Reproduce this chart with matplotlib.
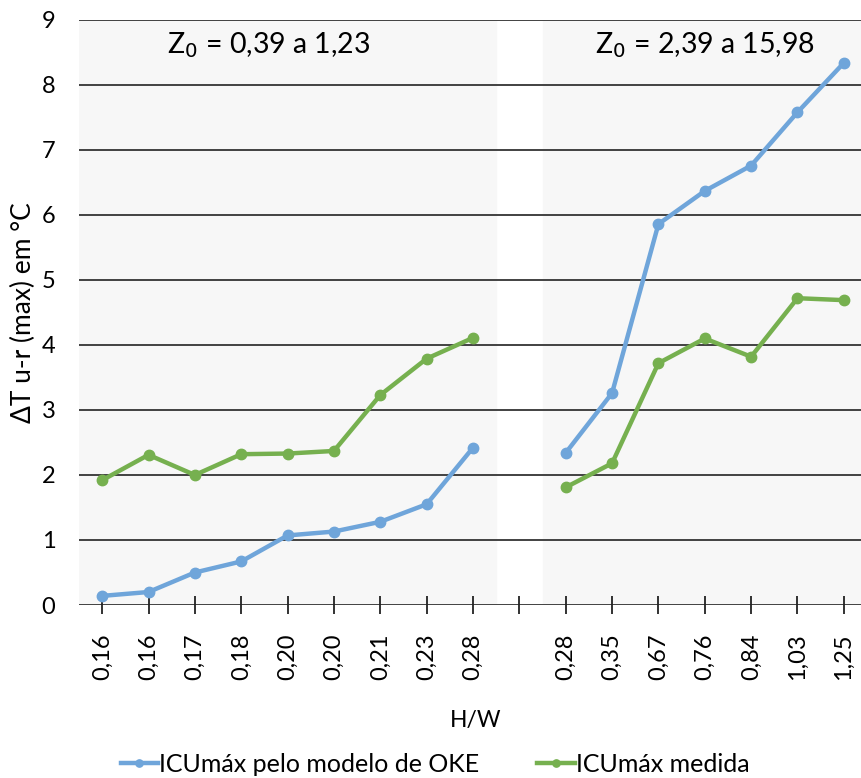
import numpy as np
import matplotlib.pyplot as plt

plt.rcParams['font.family'] = ['Lato', 'DejaVu Sans']

# H/W categories (gap between the two Z0 groups)
hw_labels = ['0,16', '0,16', '0,17', '0,18', '0,20', '0,20', '0,21', '0,23', '0,28',
             '',
             '0,28', '0,35', '0,67', '0,76', '0,84', '1,03', '1,25']

# ICU max from OKE model
oke_g1 = [0.14, 0.20, 0.50, 0.67, 1.07, 1.13, 1.28, 1.55, 2.42]
oke_g2 = [2.34, 3.26, 5.86, 6.37, 6.76, 7.58, 8.34]
# ICU max measured
med_g1 = [1.92, 2.31, 2.00, 2.32, 2.33, 2.37, 3.23, 3.79, 4.11]
med_g2 = [1.81, 2.18, 3.72, 4.10, 3.82, 4.72, 4.69]

blue = '#6fa5da'
green = '#76b04f'

fig = plt.figure(figsize=(8.62, 7.78), dpi=100)
ax = fig.add_axes([79/862, 1-605/778, (867-79)/862, 585/778])

x1 = np.arange(len(oke_g1))
x2 = np.arange(len(oke_g2)) + len(oke_g1) + 1

# light shading behind each group
ax.axvspan(x1[0]-0.5, x1[-1]+0.5, color='#f7f7f7', zorder=0)
ax.axvspan(x2[0]-0.5, x2[-1]+0.5, color='#f7f7f7', zorder=0)

for y in range(0, 10):
    ax.axhline(y, color='#333333', lw=1.3, zorder=1)

kw = dict(lw=3.2, marker='o', ms=7.5, zorder=3)
l1, = ax.plot(x1, oke_g1, color=blue, **kw)
ax.plot(x2, oke_g2, color=blue, **kw)
l2, = ax.plot(x1, med_g1, color=green, **kw)
ax.plot(x2, med_g2, color=green, **kw)

ax.set_xlim(-0.5, 16.5)
ax.set_ylim(0, 9)
ax.set_yticks(range(0, 10))
ax.set_xticks(range(len(hw_labels)))
ax.set_xticklabels(hw_labels, rotation=90, fontsize=17)
ax.tick_params(axis='y', length=0, labelsize=17, pad=17)
ax.tick_params(axis='x', direction='inout', length=13, width=1.3, color='#222222', pad=14)
for s in ax.spines.values():
    s.set_visible(False)

ax.text(3.6, 8.62, 'Z$_0$ = 0,39 a 1,23', ha='center', va='center', fontsize=20.5)
ax.text(13.0, 8.62, 'Z$_0$ = 2,39 a 15,98', ha='center', va='center', fontsize=20.5)

ax.set_ylabel('ΔT u-r (max) em °C', fontsize=19, labelpad=4)
fig.text(476/862, 1-720/778, 'H/W', ha='center', va='center', fontsize=16.5)

fig.legend([l1, l2], ['ICUmáx pelo modelo de OKE', 'ICUmáx medida'],
           loc='center', bbox_to_anchor=(435/862, 1-764/778), ncol=2, frameon=False,
           fontsize=18, handlelength=1.5, handletextpad=0.05, columnspacing=2.3,
           markerscale=0.7)

fig.savefig('out.png', dpi=100)
